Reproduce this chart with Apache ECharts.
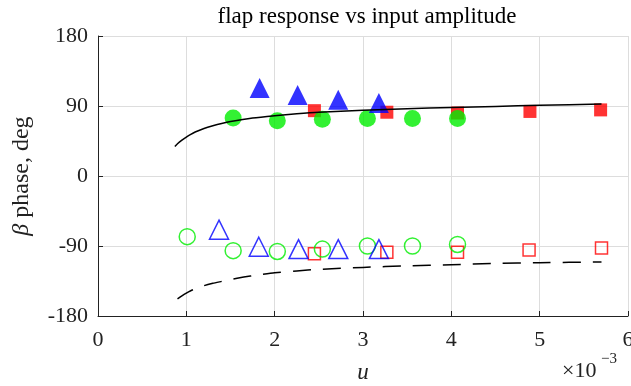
<!DOCTYPE html>
<html>
<head>
<meta charset="utf-8">
<script src="https://cdn.jsdelivr.net/npm/echarts@6/dist/echarts.min.js"></script>
<style>
  html, body { margin: 0; padding: 0; background: #fff; }
  #chart { width: 631px; height: 386px; }
</style>
</head>
<body>
<div id="chart"></div>
<script>
// u 的单位为 ×10^-3
const xTicks = [0, 1, 2, 3, 4, 5, 6];
const yTicks = [-180, -90, 0, 90, 180];

// 实心标记（上半部分）
const uTriFill = [1.83, 2.26, 2.72, 3.18];
const phTriFill = [113, 104, 98, 94];
const uCircFill = [1.53, 2.03, 2.54, 3.05, 3.56, 4.07];
const phCircFill = [74.5, 71, 73, 74, 74, 74];
const uSqFill = [2.45, 3.27, 4.07, 4.89, 5.69];
const phSqFill = [84, 82, 81, 83, 85];

// 空心标记（下半部分）
const uTriOpen = [1.37, 1.82, 2.27, 2.72, 3.18];
const phTriOpen = [-69, -91, -94, -94, -94];
const uCircOpen = [1.01, 1.53, 2.03, 2.54, 3.05, 3.56, 4.07];
const phCircOpen = [-78, -96, -97, -94, -90, -90, -88];
const uSqOpen = [2.45, 3.27, 4.07, 4.88, 5.70];
const phSqOpen = [-100, -98, -98, -95, -92.5];

// 理论曲线
const uSolid = [0.87, 0.9, 0.95, 1.0, 1.05, 1.1, 1.2, 1.3, 1.4, 1.5, 1.75, 2.0, 2.25, 2.5, 3.0, 3.5, 4.0, 4.5, 5.0, 5.7];
const phSolid = [38, 41.5, 46, 50, 53.5, 56.5, 61, 64.5, 67.5, 70, 74.5, 77.5, 80, 82, 84.5, 86.5, 88, 89.5, 91, 92.5];
const uDash = [0.9, 0.95, 1.0, 1.05, 1.1, 1.2, 1.3, 1.4, 1.5, 1.65, 1.8, 2.0, 2.25, 2.5, 3.0, 3.5, 4.0, 4.5, 5.0, 5.7];
const phDash = [-158, -154, -150.5, -147.5, -145, -141, -138, -135.5, -133, -130, -127.5, -124.5, -122, -120, -117.5, -115.5, -114, -112.5, -111.5, -110.5];

function zip(xs, ys) {
  return xs.map(function (x, i) { return [x, ys[i]]; });
}

const chartDom = document.getElementById('chart');
const myChart = echarts.init(chartDom);
const serif = 'Liberation Serif';

function markerSeries(xs, ys, symbol, size, color, filled) {
  return {
    type: 'scatter',
    symbol: symbol,
    symbolSize: size,
    data: zip(xs, ys),
    itemStyle: filled
      ? { color: color }
      : { color: 'transparent', borderColor: color, borderWidth: 1.5 },
    emphasis: { disabled: true }
  };
}

const option = {
  backgroundColor: '#fff',
  animation: false,
  title: {
    text: 'flap response vs input amplitude',
    left: 362,
    top: 0,
    textAlign: 'center',
    textStyle: { fontFamily: serif, fontSize: 23, fontWeight: 'normal', color: '#000' }
  },
  grid: { left: 98, right: 3, top: 36, bottom: 70, outerBoundsMode: 'none', containLabel: false },
  xAxis: {
    type: 'value',
    min: 0,
    max: 6,
    interval: 1,
    name: 'u',
    nameLocation: 'middle',
    nameGap: 45,
    nameTextStyle: { fontFamily: serif, fontSize: 23, fontStyle: 'italic', color: '#222' },
    axisLine: { onZero: false, lineStyle: { color: '#222', width: 1 } },
    axisTick: { inside: true, length: 5, lineStyle: { color: '#222' } },
    axisLabel: { fontFamily: serif, fontSize: 22, color: '#222', margin: 13 },
    splitLine: { show: true, lineStyle: { color: '#dddddd', width: 1 } }
  },
  yAxis: {
    type: 'value',
    min: -180,
    max: 180,
    interval: 90,
    name: '{i|β} phase, deg',
    nameLocation: 'middle',
    nameGap: 64,
    nameTextStyle: {
      fontFamily: serif, fontSize: 24, color: '#222',
      rich: { i: { fontFamily: serif, fontSize: 24, fontStyle: 'italic', color: '#222' } }
    },
    axisLine: { show: true, onZero: false, lineStyle: { color: '#222', width: 1 } },
    axisTick: { show: true, inside: true, length: 5, lineStyle: { color: '#222' } },
    axisLabel: { fontFamily: serif, fontSize: 22, color: '#222', margin: 10 },
    splitLine: { show: true, lineStyle: { color: '#dddddd', width: 1 } }
  },
  graphic: [
    {
      type: 'text',
      left: 562,
      top: 360,
      style: { text: '×10', fontFamily: serif, fontSize: 22, fill: '#222' }
    },
    {
      type: 'text',
      left: 601,
      top: 352,
      style: { text: '−3', fontFamily: serif, fontSize: 15, fill: '#222' }
    }
  ],
  series: [
    markerSeries(uSqFill, phSqFill, 'rect', 13, '#ff0000', true),
    markerSeries(uCircFill, phCircFill, 'circle', 17, '#00ee00', true),
    markerSeries(uTriFill, phTriFill, 'triangle', 20, '#0000ff', true),
    markerSeries(uSqOpen, phSqOpen, 'rect', 12, '#ff0000', false),
    markerSeries(uCircOpen, phCircOpen, 'circle', 16, '#00ee00', false),
    markerSeries(uTriOpen, phTriOpen, 'triangle', 19, '#0000ff', false),
    {
      type: 'line',
      data: zip(uSolid, phSolid),
      showSymbol: false,
      smooth: 0.2,
      lineStyle: { color: '#000', width: 1.5 },
      z: 5
    },
    {
      type: 'line',
      data: zip(uDash, phDash),
      showSymbol: false,
      smooth: 0.2,
      lineStyle: { color: '#000', width: 1.5, type: [18, 12] },
      z: 5
    }
  ]
};

option && myChart.setOption(option);
</script>
</body>
</html>
